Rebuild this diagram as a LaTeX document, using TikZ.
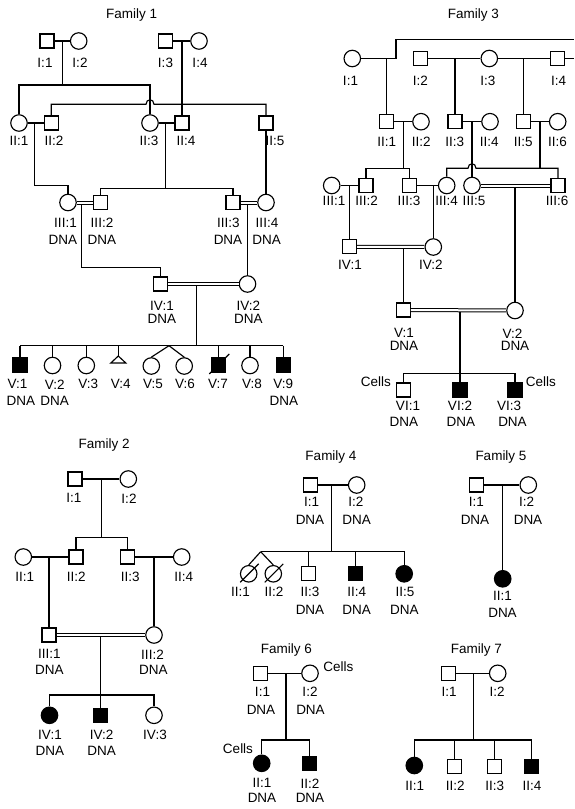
\documentclass[tikz,border=0pt]{standalone}
\usepackage{fontspec}
\setmainfont{Liberation Sans}
\usetikzlibrary{calc}
\newcommand\pedfont{\fontsize{13.5}{15}\selectfont}
\begin{document}
\begin{tikzpicture}[x=1pt,y=-1pt,
 ln/.style={line width=1.15pt},
 m/.style={draw,rectangle,minimum size=14pt,inner sep=0pt,line width=1.15pt,fill=white},
 f/.style={draw,circle,minimum size=16.5pt,inner sep=0pt,line width=1.15pt,fill=white},
 aff/.style={fill=black},
 lb/.style={font=\pedfont,inner sep=0pt},
 dbl/.style={line width=1pt,double=white,double distance=2pt},
]
\useasboundingbox (0,0) rectangle (574,809);

% ================= Family 1 =================
\node[lb] (t1) at (131.7,15) {Family 1};
\node[m] (a1) at (47,41) {};
\node[f] (a2) at (78.7,41) {};
\node[m] (a3) at (165.5,41) {};
\node[f] (a4) at (199,41) {};
\node[lb] at (45,62.5) {I:1};
\node[lb] at (80,62.5) {I:2};
\node[lb] at (165.5,62.5) {I:3};
\node[lb] at (200,62.5) {I:4};
\node[f] (b1) at (19,123) {};
\node[m] (b2) at (51.3,123) {};
\node[f] (b3) at (150,123) {};
\node[m] (b4) at (182,123) {};
\node[m] (b5) at (266,123) {};
\node[lb] at (19,141) {II:1};
\node[lb] at (54,141) {II:2};
\node[lb] at (149,141) {II:3};
\node[lb] at (186,141) {II:4};
\node[lb] at (275,141) {II:5};
\node[f] (c1) at (68,202.5) {};
\node[m] (c2) at (100.5,202.5) {};
\node[m] (c3) at (233,202.5) {};
\node[f] (c4) at (266,202.5) {};
\node[lb] at (65.5,222.7) {III:1};
\node[lb] at (63,240) {DNA};
\node[lb] at (102,222.7) {III:2};
\node[lb] at (102,240) {DNA};
\node[lb] at (228.3,222.7) {III:3};
\node[lb] at (228,240) {DNA};
\node[lb] at (267,222.7) {III:4};
\node[lb] at (266.7,240) {DNA};
\node[m] (d1) at (160.5,284) {};
\node[f] (d2) at (247.5,284) {};
\node[lb] at (162,306) {IV:1};
\node[lb] at (162,319.3) {DNA};
\node[lb] at (248.3,306) {IV:2};
\node[lb] at (248.3,319.3) {DNA};
\node[m,aff] (e1) at (20,365) {};
\node[f] (e2) at (52.5,365.5) {};
\node[f] (e3) at (86.3,365.5) {};
\coordinate (e4) at (118.3,356);
\node[f] (e5) at (151.3,366) {};
\node[f] (e6) at (184.2,366) {};
\node[m,aff] (e7) at (218.3,365) {};
\node[f] (e8) at (250,365.5) {};
\node[m,aff] (e9) at (283.3,365) {};
\node[lb] at (17.5,384.3) {V:1};
\node[lb] at (54.7,384.3) {V:2};
\node[lb] at (88.3,384.3) {V:3};
\node[lb] at (120.8,384.3) {V:4};
\node[lb] at (153,384.3) {V:5};
\node[lb] at (185,384.3) {V:6};
\node[lb] at (218,384.3) {V:7};
\node[lb] at (252,384.3) {V:8};
\node[lb] at (283.3,384.3) {V:9};
\node[lb] at (21,400.7) {DNA};
\node[lb] at (54.7,400.7) {DNA};
\node[lb] at (283.8,400.7) {DNA};

\draw[ln] (a1) -- (a2);
\draw[ln] (a3) -- (a4);
\coordinate (a12) at (62.3,41);
\coordinate (s1) at (62.3,85);
\draw[ln] (a12) -- (s1);
\draw[ln] (b1.north) -- (b1.north |- s1) -- (b3.north |- s1) -- (b3.north);
\coordinate (a34) at (182,41);
\draw[ln] (a34) -- (b4.north);
\coordinate (s2L) at (51.3,104.3);
\coordinate (s2R) at (266,104.3);
\draw[ln] (b2.north) -- (s2L) -- (146,104.3) .. controls (146,98.3) and (154,98.3) .. (154,104.3) -- (s2R) -- (b5.north);
\draw[ln] (b1) -- (b2);
\draw[ln] (b3) -- (b4);
\coordinate (b12) at (34.3,123);
\draw[ln] (b12) -- (34.3,185.3) -| (c1.north);
\coordinate (b34) at (165.7,123);
\coordinate (s3) at (165.7,188.3);
\draw[ln] (b34) -- (s3);
\draw[ln] (c2.north) -- (c2.north |- s3) -- (c3.north |- s3) -- (c3.north);
\draw[ln] (b5.south) -- (c4.north);
\coordinate (c12) at (81.7,202.5);
\draw[ln] (c12) -- (81.7,267.7) -| (d1.north);
\coordinate (c34) at (247.5,202.5);
\draw[ln] (c34) -- (d2.north);
\draw[dbl] (c1) -- (c2);
\draw[dbl] (c3) -- (c4);
\coordinate (d12) at (196.7,284);
\coordinate (s4) at (196.7,345.7);
\draw[ln] (d12) -- (s4);
\draw[dbl] (d1) -- (d2);
\draw[ln] (e1.north |- s4) -- (e9.north |- s4);
\draw[ln] (e1.north |- s4) -- (e1.north);
\draw[ln] (e2.north |- s4) -- (e2.north);
\draw[ln] (e3.north |- s4) -- (e3.north);
\draw[ln] (e4 |- s4) -- (e4);
\draw[ln,line join=miter] (e4) -- ++(-7.5,7) -- ++(15,0) -- cycle;
\coordinate (tw1) at (169,345.7);
\draw[ln] (tw1) -- (e5.north);
\draw[ln] (tw1) -- (e6.north);
\draw[ln] (e7.north |- s4) -- (e7.north);
\draw[ln] ($(e7)+(-9,9)$) -- ($(e7)+(11,-11)$);
\draw[ln] (e8.north |- s4) -- (e8.north);
\draw[ln] (e9.north |- s4) -- (e9.north);

% ================= Family 3 =================
\node[lb] (t3) at (473.3,15) {Family 3};
\node[f] (g1) at (352.3,58.5) {};
\node[m] (g2) at (420.3,58.5) {};
\node[f] (g3) at (489.3,58.5) {};
\node[m] (g4) at (557.7,58.5) {};
\node[lb] at (350.5,81) {I:1};
\node[lb] at (420.3,81) {I:2};
\node[lb] at (487.8,81) {I:3};
\node[lb] at (558.5,81) {I:4};
\node[m] (h1) at (386.3,121.7) {};
\node[f] (h2) at (421,121.7) {};
\node[m] (h3) at (455,121.7) {};
\node[f] (h4) at (490,121.7) {};
\node[m] (h5) at (523.3,121.7) {};
\node[f] (h6) at (557.7,121.7) {};
\node[lb] at (386.7,141.7) {II:1};
\node[lb] at (421.3,141.7) {II:2};
\node[lb] at (454.7,141.7) {II:3};
\node[lb] at (489.2,141.7) {II:4};
\node[lb] at (523.3,141.7) {II:5};
\node[lb] at (557.5,141.7) {II:6};
\node[f] (k1) at (331.7,185.5) {};
\node[m] (k2) at (366,185.5) {};
\node[m] (k3) at (409.7,185.5) {};
\node[f] (k4) at (446.7,185.5) {};
\node[f] (k5) at (472,185.5) {};
\node[m] (k6) at (558,185.5) {};
\node[lb] at (334,201) {III:1};
\node[lb] at (366.7,201) {III:2};
\node[lb] at (409,201) {III:3};
\node[lb] at (446.7,201) {III:4};
\node[lb] at (474,201) {III:5};
\node[lb] at (557,201) {III:6};
\node[m] (m1) at (349.5,246.8) {};
\node[f] (m2) at (433.3,247) {};
\node[lb] at (350,265) {IV:1};
\node[lb] at (430.8,265) {IV:2};
\node[m] (n1) at (403.3,310) {};
\node[f] (n2) at (515,310.5) {};
\node[lb] at (404,333.3) {V:1};
\node[lb] at (404,346) {DNA};
\node[lb] at (512.5,333.3) {V:2};
\node[lb] at (515,346) {DNA};
\node[m] (o1) at (403.5,390) {};
\node[m,aff] (o2) at (460,390) {};
\node[m,aff] (o3) at (515,390) {};
\node[lb] at (375.8,381.7) {Cells};
\node[lb] at (540.8,381.7) {Cells};
\node[lb] at (408,405.7) {VI:1};
\node[lb] at (460,405.7) {VI:2};
\node[lb] at (509.2,405.7) {VI:3};
\node[lb] at (403.8,421.7) {DNA};
\node[lb] at (460.8,421.7) {DNA};
\node[lb] at (512.5,421.7) {DNA};

\coordinate (f3a) at (574,39.3);
\coordinate (f3b) at (574,58.5);
\draw[ln] (g1.east) -- (396,58.5) -- (396,39.3) -- (f3a);
\draw[ln] (g2) -- (g3);
\draw[ln] (g3) -- (g4);
\draw[ln] (g4.east) -- (f3b);
\coordinate (g1x) at (386.3,58.5);
\draw[ln] (g1x) -- (h1.north);
\coordinate (g23) at (455,58.5);
\draw[ln] (g23) -- (h3.north);
\coordinate (g34) at (523.3,58.5);
\draw[ln] (g34) -- (h5.north);
\draw[ln] (h1) -- (h2);
\draw[ln] (h3) -- (h4);
\draw[ln] (h5) -- (h6);
\coordinate (h12) at (403.3,121.7);
\coordinate (u1) at (403.3,168.3);
\draw[ln] (h12) -- (u1);
\draw[ln] (k2.north) -- (k2.north |- u1) -- (k3.north |- u1) -- (k3.north);
\coordinate (h34) at (472,121.7);
\draw[ln] (h34) -- (k5.north);
\coordinate (h56) at (540,121.7);
\coordinate (u2) at (540,168.3);
\draw[ln] (h56) -- (u2);
\draw[ln] (k4.north) -- (k4.north |- u2) -- (468,168.3) .. controls (468,162.3) and (476,162.3) .. (476,168.3) -- (k6.north |- u2) -- (k6.north);
\draw[ln] (k1) -- (k2);
\draw[ln] (k3) -- (k4);
\coordinate (k12) at (349.5,185.5);
\draw[ln] (k12) -- (m1.north);
\coordinate (k34) at (433.3,185.5);
\draw[ln] (k34) -- (m2.north);
\coordinate (k56) at (515,185.5);
\draw[ln] (k56) -- (n2.north);
\draw[dbl] (k5) -- (k6);
\coordinate (m12) at (403.3,247);
\draw[ln] (m12) -- (n1.north);
\draw[dbl] (m1) -- (m2);
\coordinate (n12) at (460,310);
\coordinate (u3) at (460,373.3);
\draw[ln] (n12) -- (u3);
\draw[dbl] (n1) -- (n2);
\draw[ln] (o1.north) -- (o1.north |- u3) -- (o3.north |- u3) -- (o3.north);
\draw[ln] (u3) -- (o2.north);

% ================= Family 2 =================
\node[lb] (t2) at (104.2,445) {Family 2};
\node[m] (p1) at (75,479) {};
\node[f] (p2) at (128.3,479) {};
\node[lb] at (73.8,498.3) {I:1};
\node[lb] at (129,498.3) {I:2};
\node[f] (q1) at (23.3,557) {};
\node[m] (q2) at (76,557) {};
\node[m] (q3) at (127.3,557) {};
\node[f] (q4) at (181.7,557) {};
\node[lb] at (24.7,576.7) {II:1};
\node[lb] at (76.3,576.7) {II:2};
\node[lb] at (130.3,576.7) {II:3};
\node[lb] at (183.8,576.7) {II:4};
\node[m] (r1) at (49,635) {};
\node[f] (r2) at (154,635) {};
\node[lb] at (49.3,654.3) {III:1};
\node[lb] at (49.3,670) {DNA};
\node[lb] at (152.5,654.3) {III:2};
\node[lb] at (153.3,670) {DNA};
\node[f,aff] (s1n) at (49.5,715.3) {};
\node[m,aff] (s2n) at (100.5,715.3) {};
\node[f] (s3n) at (154,715.3) {};
\node[lb] at (50,735) {IV:1};
\node[lb] at (101.7,735) {IV:2};
\node[lb] at (155,735) {IV:3};
\node[lb] at (50,751) {DNA};
\node[lb] at (101.7,751) {DNA};

\draw[ln] (p1) -- (p2);
\coordinate (p12) at (101.7,479);
\coordinate (v1) at (101.7,537.7);
\draw[ln] (p12) -- (v1);
\draw[ln] (q2.north) -- (q2.north |- v1) -- (q3.north |- v1) -- (q3.north);
\draw[ln] (q1) -- (q2);
\draw[ln] (q3) -- (q4);
\coordinate (q12) at (49,557);
\draw[ln] (q12) -- (r1.north);
\coordinate (q34) at (154,557);
\draw[ln] (q34) -- (r2.north);
\coordinate (r12) at (100.5,635);
\coordinate (v2) at (100.5,695);
\draw[ln] (r12) -- (v2);
\draw[dbl] (r1) -- (r2);
\draw[ln] (s1n.north) -- (s1n.north |- v2) -- (s3n.north |- v2) -- (s3n.north);
\draw[ln] (v2) -- (s2n.north);

% ================= Family 4 =================
\node[lb] (t4) at (331,456.7) {Family 4};
\node[m] (w1) at (310.7,485) {};
\node[f] (w2) at (356.7,485) {};
\node[lb] at (311.7,501.7) {I:1};
\node[lb] at (310,520) {DNA};
\node[lb] at (355.8,501.7) {I:2};
\node[lb] at (356.7,520) {DNA};
\node[f] (x1) at (248.7,573.8) {};
\node[f] (x2) at (273.3,573.8) {};
\node[m] (x3) at (308.5,573.3) {};
\node[m,aff] (x4) at (355.3,573.3) {};
\node[f,aff] (x5) at (404.2,573.8) {};
\node[lb] at (240.5,591.7) {II:1};
\node[lb] at (274,591.7) {II:2};
\node[lb] at (310,591.7) {II:3};
\node[lb] at (356.8,591.7) {II:4};
\node[lb] at (405,591.7) {II:5};
\node[lb] at (310,610) {DNA};
\node[lb] at (356.7,610) {DNA};
\node[lb] at (404.3,610) {DNA};

\draw[ln] (w1) -- (w2);
\coordinate (w12) at (331.7,485);
\coordinate (v3) at (331.7,551.7);
\draw[ln] (w12) -- (v3);
\coordinate (tw2) at (260.7,551.7);
\draw[ln] (tw2) -- (x5.north |- v3) -- (x5.north);
\draw[ln] (tw2) -- (x1.north);
\draw[ln] (tw2) -- (x2.north);
\draw[ln] (x3.north |- v3) -- (x3.north);
\draw[ln] (x4.north |- v3) -- (x4.north);
\draw[ln] ($(x1)+(-8.5,8.5)$) -- ($(x1)+(10,-10)$);
\draw[ln] ($(x2)+(-8.5,8.5)$) -- ($(x2)+(10,-10)$);

% ================= Family 5 =================
\node[lb] (t5) at (501,456.7) {Family 5};
\node[m] (y1) at (476.3,485) {};
\node[f] (y2) at (528.3,485) {};
\node[lb] at (476.3,501.7) {I:1};
\node[lb] at (475,520) {DNA};
\node[lb] at (526.7,501.7) {I:2};
\node[lb] at (528,520) {DNA};
\node[f,aff] (y3) at (502.7,578.8) {};
\node[lb] at (502.5,595.7) {II:1};
\node[lb] at (502.5,613.3) {DNA};
\draw[ln] (y1) -- (y2);
\coordinate (y12) at (502.7,485);
\draw[ln] (y12) -- (y3.north);

% ================= Family 6 =================
\node[lb] (t6) at (286.3,650) {Family 6};
\node[m] (z1) at (260.8,673.3) {};
\node[f] (z2) at (310,673.3) {};
\node[lb] at (338.3,666.7) {Cells};
\node[lb] at (262.5,691.7) {I:1};
\node[lb] at (261,710) {DNA};
\node[lb] at (310,691.7) {I:2};
\node[lb] at (310.5,710) {DNA};
\node[f,aff] (z3) at (261.7,763.3) {};
\node[m,aff] (z4) at (309.7,763.7) {};
\node[lb] at (238,748.3) {Cells};
\node[lb] at (262,783.3) {II:1};
\node[lb] at (262,798.3) {DNA};
\node[lb] at (310,783.3) {II:2};
\node[lb] at (310,798.3) {DNA};
\draw[ln] (z1) -- (z2);
\coordinate (z12) at (286,673.3);
\coordinate (v4) at (286,740);
\draw[ln] (z12) -- (v4);
\draw[ln] (z3.north) -- (z3.north |- v4) -- (z4.north |- v4) -- (z4.north);

% ================= Family 7 =================
\node[lb] (t7) at (476.3,650) {Family 7};
\node[m] (aa1) at (448.8,673.3) {};
\node[f] (aa2) at (497.7,673.3) {};
\node[lb] at (449.2,691.7) {I:1};
\node[lb] at (497.2,691.7) {I:2};
\node[f,aff] (bb1) at (414.3,765.5) {};
\node[m] (bb2) at (454.3,766.3) {};
\node[m] (bb3) at (494.3,766.3) {};
\node[m,aff] (bb4) at (531.7,766.3) {};
\node[lb] at (414.7,785.7) {II:1};
\node[lb] at (455.3,785.7) {II:2};
\node[lb] at (494.7,785.7) {II:3};
\node[lb] at (532,785.7) {II:4};
\draw[ln] (aa1) -- (aa2);
\coordinate (aa12) at (473.3,673.3);
\coordinate (v5) at (473.3,740);
\draw[ln] (aa12) -- (v5);
\draw[ln] (bb1.north) -- (bb1.north |- v5) -- (bb4.north |- v5) -- (bb4.north);
\draw[ln] (bb2.north |- v5) -- (bb2.north);
\draw[ln] (bb3.north |- v5) -- (bb3.north);
\end{tikzpicture}
\end{document}
